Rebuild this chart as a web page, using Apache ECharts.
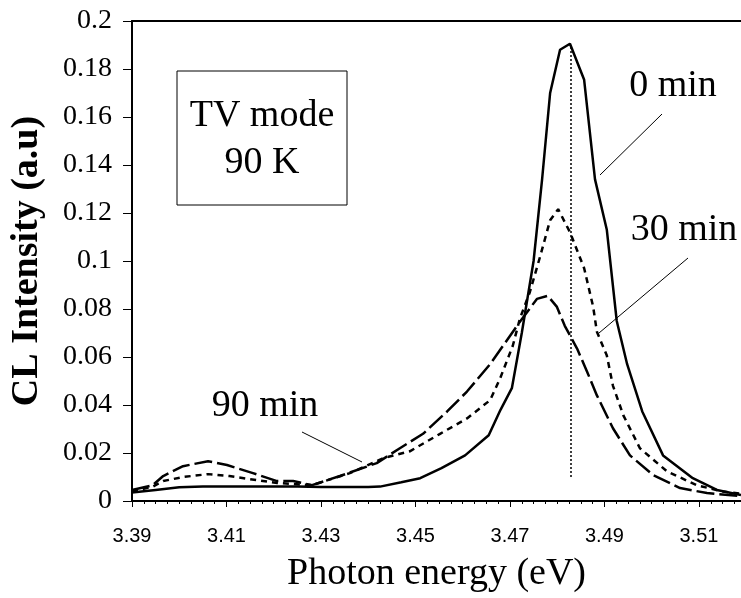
<!DOCTYPE html>
<html>
<head>
<meta charset="utf-8">
<script src="https://cdn.jsdelivr.net/npm/echarts@6/dist/echarts.min.js"></script>
<style>
  html, body { margin: 0; padding: 0; background: #fff; }
  #chart { width: 741px; height: 598px; }
</style>
</head>
<body>
<div id="chart"></div>
<script>
// photon energy (eV) and CL intensity (a.u)
const energy0 = [3.39, 3.395, 3.40, 3.405, 3.41, 3.415, 3.42, 3.425, 3.43, 3.435, 3.44, 3.4425, 3.447, 3.451, 3.4555, 3.4605, 3.4655, 3.468, 3.4704, 3.4725, 3.475, 3.4768, 3.4785, 3.4806, 3.4827, 3.4857, 3.488, 3.4905, 3.4926, 3.4948, 3.498, 3.5024, 3.5087, 3.5138, 3.5189];
const intensity0 = [0.0035, 0.0046, 0.0057, 0.006, 0.006, 0.006, 0.006, 0.006, 0.0058, 0.0058, 0.0058, 0.006, 0.0078, 0.0095, 0.0137, 0.019, 0.0274, 0.038, 0.047, 0.07, 0.1, 0.134, 0.17, 0.188, 0.1905, 0.1755, 0.134, 0.113, 0.075, 0.057, 0.0373, 0.019, 0.0095, 0.0046, 0.0025];

const energy30 = [3.39, 3.3944, 3.3966, 3.4008, 3.4061, 3.4106, 3.4164, 3.4207, 3.4281, 3.4361, 3.4431, 3.4488, 3.4552, 3.4609, 3.4658, 3.4679, 3.4706, 3.4721, 3.4742, 3.4764, 3.4785, 3.4802, 3.4827, 3.4857, 3.4876, 3.4884, 3.4905, 3.4918, 3.494, 3.4975, 3.5032, 3.5095, 3.515, 3.5189];
const intensity30 = [0.004, 0.006, 0.0083, 0.01, 0.0112, 0.0104, 0.0087, 0.0075, 0.0066, 0.0116, 0.0178, 0.0207, 0.028, 0.0344, 0.042, 0.051, 0.0647, 0.076, 0.087, 0.102, 0.117, 0.1216, 0.112, 0.097, 0.081, 0.0705, 0.0606, 0.048, 0.0357, 0.022, 0.0124, 0.0066, 0.004, 0.003];

const energy90 = [3.39, 3.3944, 3.3966, 3.4008, 3.4061, 3.4101, 3.4156, 3.4207, 3.4241, 3.4281, 3.434, 3.4418, 3.4467, 3.4516, 3.4567, 3.4609, 3.4658, 3.4721, 3.4757, 3.478, 3.4799, 3.4816, 3.4842, 3.4863, 3.4884, 3.4918, 3.4954, 3.5003, 3.506, 3.5117, 3.5189];
const intensity90 = [0.0046, 0.0066, 0.0104, 0.0145, 0.0166, 0.015, 0.0116, 0.0083, 0.0083, 0.0066, 0.0104, 0.0158, 0.022, 0.028, 0.0373, 0.0456, 0.057, 0.0747, 0.0842, 0.0855, 0.081, 0.073, 0.0635, 0.054, 0.044, 0.0303, 0.019, 0.0108, 0.0054, 0.0033, 0.002];

const peakEnergy = 3.4828;
const peakLine = [0.01, 0.19];
const xTickValues = [3.39, 3.41, 3.43, 3.45, 3.47, 3.49, 3.51];

const serif = '"Liberation Serif", "Times New Roman", serif';
const sans = '"Liberation Sans", Arial, sans-serif';

function pairs(xs, ys) {
    return xs.map((x, i) => [x, ys[i]]);
}

function note(text, x, y) {
    return { type: 'text', x: x, y: y, style: { text: text, font: '38px ' + serif, fill: '#000', textAlign: 'center', textVerticalAlign: 'middle' } };
}

const chart = echarts.init(document.getElementById('chart'), null, { renderer: 'canvas' });

const option = {
    backgroundColor: '#fff',
    animation: false,
    grid: { left: 132, right: 0, top: 21, bottom: 95, containLabel: false },
    xAxis: [{
        type: 'value',
        min: 3.39,
        max: 3.5189,
        interval: 0.02,
        name: 'Photon energy (eV)',
        nameLocation: 'middle',
        nameGap: 54,
        nameTextStyle: { fontFamily: serif, fontSize: 38, color: '#000' },
        axisLine: { lineStyle: { color: '#000', width: 2 } },
        axisTick: { show: true, inside: false, length: 6, customValues: xTickValues, lineStyle: { color: '#000', width: 1 } },
        minorTick: { show: true, splitNumber: 8, length: 3, lineStyle: { color: '#000', width: 1 } },
        axisLabel: {
            customValues: xTickValues,
            formatter: v => v.toFixed(2),
            fontFamily: sans, fontSize: 20, color: '#000', margin: 25
        },
        splitLine: { show: false }
    }, {
        type: 'value',
        position: 'top',
        min: 3.39,
        max: 3.5189,
        axisLine: { show: true, lineStyle: { color: '#000', width: 2 } },
        axisTick: { show: false },
        axisLabel: { show: false },
        splitLine: { show: false }
    }],
    yAxis: {
        type: 'value',
        min: 0,
        max: 0.2,
        interval: 0.02,
        name: 'CL Intensity (a.u)',
        nameLocation: 'middle',
        nameGap: 86,
        nameTextStyle: { fontFamily: serif, fontSize: 38, fontWeight: 'bold', color: '#000' },
        axisLine: { show: true, lineStyle: { color: '#000', width: 2 } },
        axisTick: { show: true, inside: false, length: 9, lineStyle: { color: '#000', width: 1 } },
        axisLabel: {
            formatter: v => String(+v.toFixed(2)),
            fontFamily: serif, fontSize: 28, color: '#000', margin: 20
        },
        splitLine: { show: false }
    },
    series: [{
        name: '0 min',
        type: 'line',
        data: pairs(energy0, intensity0),
        symbol: 'none',
        lineStyle: { color: '#000', width: 2.5, type: 'solid' },
        markLine: {
            silent: true,
            symbol: 'none',
            label: { show: false },
            lineStyle: { color: '#000', width: 1.5, type: [2, 2] },
            data: [[{ coord: [peakEnergy, peakLine[0]] }, { coord: [peakEnergy, peakLine[1]] }]]
        }
    }, {
        name: '30 min',
        type: 'line',
        data: pairs(energy30, intensity30),
        symbol: 'none',
        lineStyle: { color: '#000', width: 2.5, type: [6, 5] }
    }, {
        name: '90 min',
        type: 'line',
        data: pairs(energy90, intensity90),
        symbol: 'none',
        lineStyle: { color: '#000', width: 2.5, type: [18, 5] }
    }],
    graphic: [
        { type: 'rect', shape: { x: 177, y: 71, width: 170, height: 134 }, style: { fill: '#fff', stroke: '#000', lineWidth: 1 } },
        note('TV mode', 262, 116),
        note('90 K', 262, 163),
        note('0 min', 673, 86),
        { type: 'line', shape: { x1: 662, y1: 114, x2: 600, y2: 175 }, style: { stroke: '#000', lineWidth: 1 } },
        note('30 min', 684, 230),
        { type: 'line', shape: { x1: 688, y1: 258, x2: 599, y2: 333 }, style: { stroke: '#000', lineWidth: 1 } },
        note('90 min', 265, 406),
        { type: 'line', shape: { x1: 302, y1: 432, x2: 362, y2: 462 }, style: { stroke: '#000', lineWidth: 1 } }
    ]
};

chart.setOption(option);
window.addEventListener('resize', () => chart.resize());
</script>
</body>
</html>
